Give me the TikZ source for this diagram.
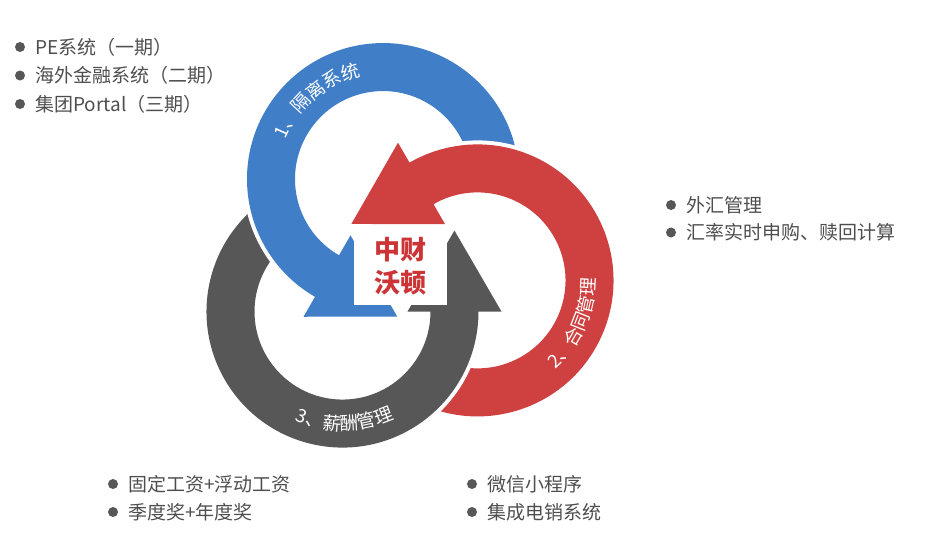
\documentclass[tikz,border=0pt]{standalone}
\usepackage{fontspec}
\newfontfamily\cjk{Noto Sans CJK SC}
\usetikzlibrary{positioning,decorations.text}
\definecolor{ringblue}{RGB}{64,126,200}
\definecolor{ringred}{RGB}{206,65,64}
\definecolor{ringgrey}{RGB}{87,87,87}
\definecolor{listgrey}{RGB}{78,78,78}
\definecolor{hubred}{RGB}{204,52,54}
\tikzset{
	item/.style={anchor=west, inner sep=0, text=listgrey, font=\cjk\fontsize{19}{19}\selectfont},
	dot/.style={circle, fill=ringgrey, inner sep=0, minimum size=10},
	ringfill/.style={fill=#1, preaction={draw=white, line width=8pt, line join=round}},
	bandtext/.style={decorate, decoration={text along path, text align=center,
		text={|\cjk\fontsize{18.5}{18.5}\selectfont\color{white}|#1}}},
	hub/.style={fill=white, minimum width=93, minimum height=78, align=center,
		text=hubred, font=\cjk\bfseries\fontsize{26}{33}\selectfont}
}
\newcommand\cyclearrow[1]{%
	\path[ringfill=#1] (-115:136) arc[start angle=-115, end angle=120, radius=136]
		-- (120:159) -- (155.9:138.2) -- (120:65) -- (120:88)
		arc[start angle=120, end angle=-115, radius=88] -- cycle;}
\begin{document}
\begin{tikzpicture}[x=1pt, y=1pt]
	\useasboundingbox (0,0) rectangle (941,-558);
	\coordinate (O) at (401,-257);
	\foreach \name/\col/\rot in {B/ringblue/120, R/ringred/0, G/ringgrey/240}{
		\begin{scope}[shift={(O)}, rotate=\rot, shift={(-17:80)}]
			\cyclearrow{\col}
			\coordinate (c\name) at (0,0);
		\end{scope}
	}
	\begin{scope}
		\clip (200,-170) rectangle (330,-290);
		\begin{scope}[shift={(O)}, rotate=120, shift={(-17:80)}]
			\cyclearrow{ringblue}
		\end{scope}
	\end{scope}
	\path[bandtext={1、隔离系统}] ([shift={(168:105)}]cB) arc[start angle=168, end angle=92, radius=105];
	\path[bandtext={2、合同管理}] ([shift={(-62:118)}]cR) arc[start angle=-62, end angle=14, radius=118];
	\path[bandtext={3、薪酬管理}] ([shift={(-127:119)}]cG) arc[start angle=-127, end angle=-51, radius=119];
	\node[hub] (hub) at (400,-266) {中财\\沃顿};
	\foreach \txt [count=\i] in {PE系统（一期）, 海外金融系统（二期）, 集团Portal（三期）}{
		\node[dot] (ld\i) at (20,{-47-28.5*(\i-1)}) {};
		\node[item, right=10pt of ld\i] (lt\i) {\txt};
	}
	\foreach \txt [count=\i] in {外汇管理, 汇率实时申购、赎回计算}{
		\node[dot] (rd\i) at (671,{-205-27.5*(\i-1)}) {};
		\node[item, right=10pt of rd\i] (rt\i) {\txt};
	}
	\foreach \txt [count=\i] in {固定工资+浮动工资, 季度奖+年度奖}{
		\node[dot] (pd\i) at (113,{-484-28*(\i-1)}) {};
		\node[item, right=10pt of pd\i] (pt\i) {\txt};
	}
	\foreach \txt [count=\i] in {微信小程序, 集成电销系统}{
		\node[dot] (sd\i) at (472,{-484-28*(\i-1)}) {};
		\node[item, right=10pt of sd\i] (st\i) {\txt};
	}
\end{tikzpicture}
\end{document}
